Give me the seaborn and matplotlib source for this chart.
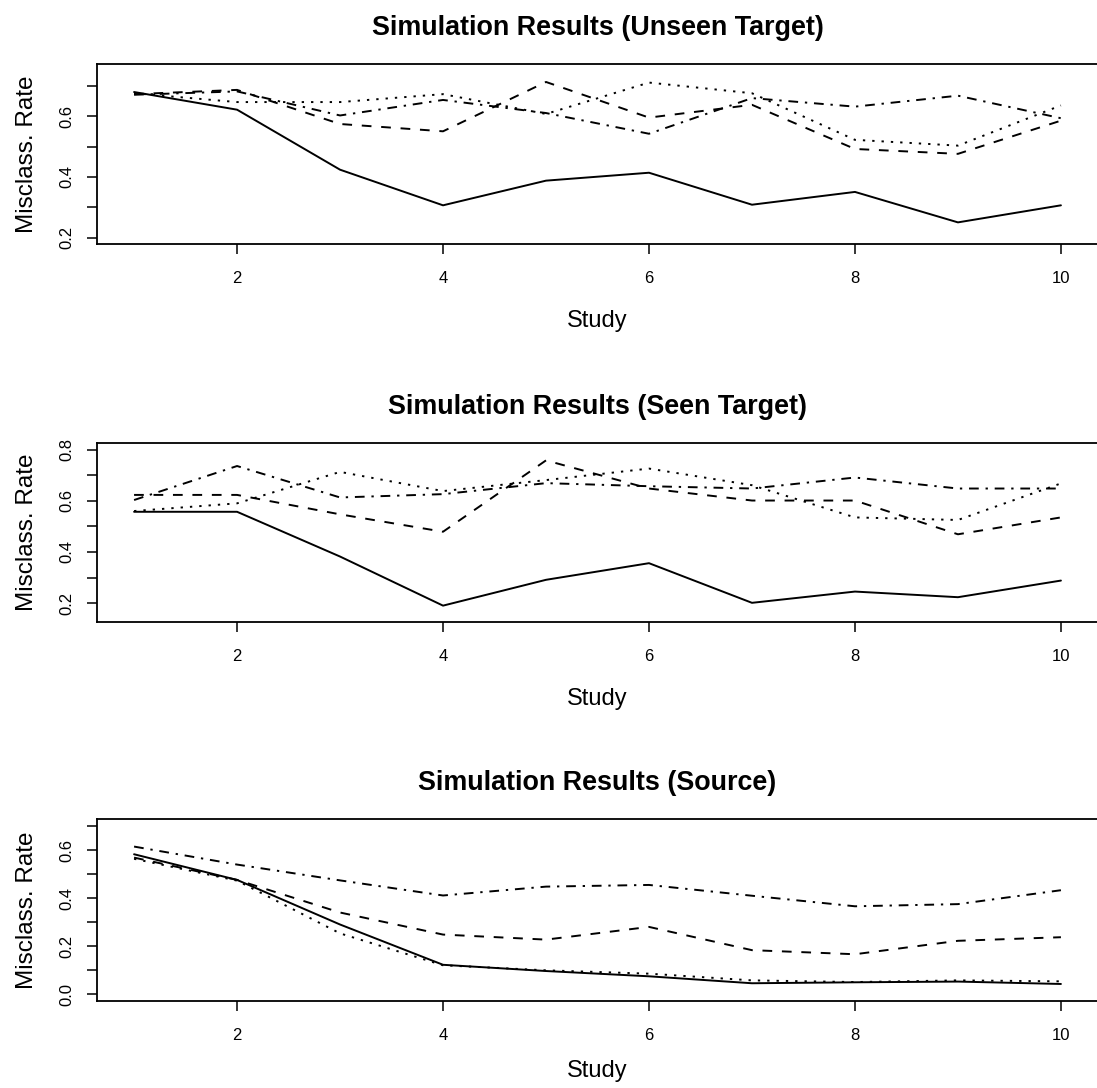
import numpy as np
import pandas as pd
import matplotlib
matplotlib.use("Agg")
import matplotlib.pyplot as plt
import seaborn as sns

study = list(range(1, 11))
methods = ["M1", "M2", "M3", "M4"]

# Unseen target
unseen_m1 = [0.679, 0.621, 0.424, 0.307, 0.388, 0.414, 0.309, 0.351, 0.251, 0.307]
unseen_m2 = [0.672, 0.686, 0.574, 0.550, 0.712, 0.595, 0.637, 0.492, 0.476, 0.585]
unseen_m3 = [0.675, 0.646, 0.646, 0.672, 0.607, 0.710, 0.675, 0.522, 0.503, 0.635]
unseen_m4 = [0.670, 0.681, 0.602, 0.653, 0.610, 0.542, 0.659, 0.631, 0.667, 0.593]

# Seen target
seen_m1 = [0.557, 0.557, 0.382, 0.190, 0.291, 0.356, 0.201, 0.245, 0.223, 0.288]
seen_m2 = [0.623, 0.623, 0.547, 0.479, 0.758, 0.648, 0.601, 0.601, 0.469, 0.535]
seen_m3 = [0.560, 0.590, 0.713, 0.638, 0.681, 0.726, 0.661, 0.535, 0.525, 0.668]
seen_m4 = [0.603, 0.736, 0.613, 0.626, 0.669, 0.657, 0.648, 0.691, 0.648, 0.648]

# Source
source_m1 = [0.583, 0.476, 0.290, 0.122, 0.096, 0.074, 0.045, 0.049, 0.052, 0.042]
source_m2 = [0.569, 0.476, 0.340, 0.248, 0.227, 0.280, 0.183, 0.166, 0.222, 0.237]
source_m3 = [0.564, 0.473, 0.253, 0.120, 0.099, 0.085, 0.057, 0.050, 0.057, 0.053]
source_m4 = [0.615, 0.540, 0.474, 0.411, 0.448, 0.455, 0.410, 0.366, 0.375, 0.433]

titles = ["Simulation Results (Unseen Target)",
          "Simulation Results (Seen Target)",
          "Simulation Results (Source)"]
panels = [
    [unseen_m1, unseen_m2, unseen_m3, unseen_m4],
    [seen_m1, seen_m2, seen_m3, seen_m4],
    [source_m1, source_m2, source_m3, source_m4],
]
ylims = [(0.180, 0.771), (0.126, 0.826), (-0.029, 0.730)]
yticks = [[0.2, 0.3, 0.4, 0.5, 0.6, 0.7],
          [0.2, 0.3, 0.4, 0.5, 0.6, 0.7, 0.8],
          [0.0, 0.1, 0.2, 0.3, 0.4, 0.5, 0.6, 0.7]]
ylabeled = [[0.2, 0.4, 0.6], [0.2, 0.4, 0.6, 0.8], [0.0, 0.2, 0.4, 0.6]]
xticks = [2, 4, 6, 8, 10]

sns.set_style("ticks")
plt.rcParams["font.family"] = ["Liberation Sans", "DejaVu Sans"]
plt.rcParams["text.color"] = "black"
plt.rcParams["axes.labelcolor"] = "black"
plt.rcParams["xtick.color"] = "black"
plt.rcParams["ytick.color"] = "black"

W, H = 1097, 1088
fig = plt.figure(figsize=(W / 100, H / 100), dpi=100)

# axes boxes in pixel coordinates (left, top, right, bottom)
boxes = [(97, 64, 1098, 244), (97, 443, 1098, 622), (97, 819, 1098, 1001)]
xlabelpads = [17, 17, 12]

dashes = {"M1": "", "M2": (5, 5), "M3": (1.2, 3.6), "M4": (5, 3.5, 1.2, 3.5)}

for i in range(3):
    l, t, r, b = boxes[i]
    ax = fig.add_axes([l / W, 1 - b / H, (r - l) / W, (b - t) / H])
    rows = []
    for m, vals in zip(methods, panels[i]):
        for s, v in zip(study, vals):
            rows.append({"Study": s, "Method": m, "Rate": v})
    df = pd.DataFrame(rows)
    sns.lineplot(data=df, x="Study", y="Rate", style="Method", dashes=dashes,
                 color="black", linewidth=1.4, legend=False, ax=ax)
    ax.set_xlim(1 - 0.36, 10 + 0.36)
    ax.set_ylim(*ylims[i])
    ax.set_xticks(xticks)
    ax.set_xticklabels([str(x) for x in xticks])
    ax.set_yticks(yticks[i])
    ax.set_yticklabels([(f"{v:.1f}" if any(abs(v - u) < 1e-9 for u in ylabeled[i]) else "")
                        for v in yticks[i]], rotation=90, va="center")
    ax.tick_params(axis="both", direction="out", length=7.5, width=1.1,
                   labelsize=12, color="black", labelcolor="black")
    ax.tick_params(axis="x", pad=12)
    ax.tick_params(axis="y", pad=9)
    for sp in ax.spines.values():
        sp.set_visible(True)
        sp.set_color("black")
        sp.set_linewidth(1.3)
    ax.set_xlabel("Study", fontsize=17, labelpad=xlabelpads[i], color="black")
    ax.set_ylabel("Misclass. Rate", fontsize=17.5, labelpad=15, color="black")
    ax.set_title(titles[i], fontsize=19.4, fontweight="bold", pad=21, color="black")

fig.savefig("out.png", dpi=100, facecolor="white")
